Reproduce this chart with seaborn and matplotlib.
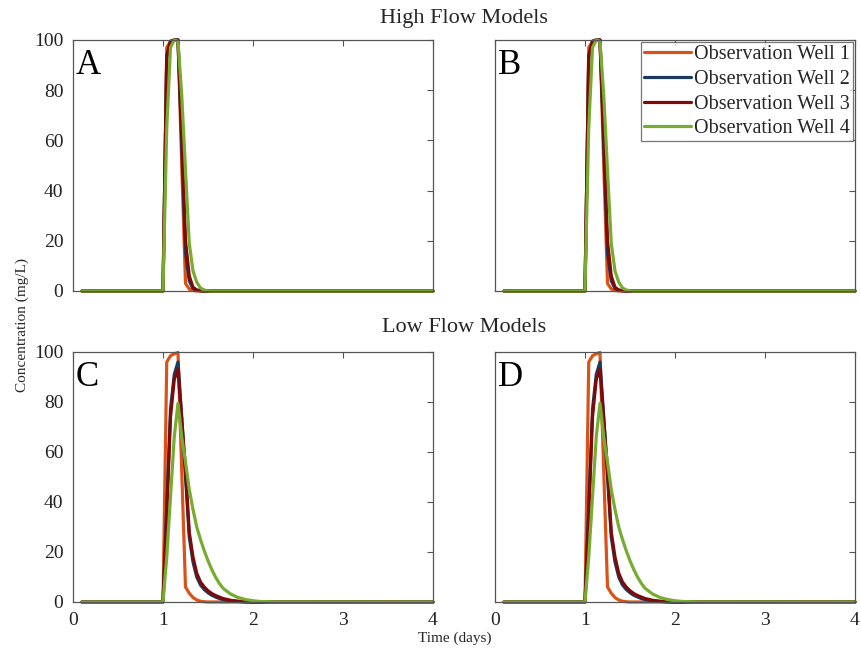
import numpy as np
import pandas as pd
import seaborn as sns
import matplotlib
matplotlib.use("Agg")
import matplotlib.pyplot as plt

# Sampling times (days)
time_days = [0.1, 1.0, 1.0417, 1.0833, 1.125, 1.1667, 1.2083, 1.25, 1.2917,
             1.3333, 1.375, 1.4167, 1.4583, 1.5, 1.5417, 1.5833, 1.625,
             1.6667, 1.75, 1.8333, 1.9167, 2.0, 2.0833, 2.25, 4.0]

# High flow breakthrough curves (mg/L)
high_well1 = [0, 0, 97, 99.5, 100, 100, 50, 3, 0.8, 0.2, 0, 0, 0, 0, 0, 0, 0,
              0, 0, 0, 0, 0, 0, 0, 0]
high_well2 = [0, 0, 93, 99, 100, 100, 58, 15, 4, 1, 0.3, 0.1, 0, 0, 0, 0, 0,
              0, 0, 0, 0, 0, 0, 0, 0]
high_well3 = [0, 0, 94, 99.5, 100, 100, 62, 20, 6, 1.5, 0.4, 0.1, 0, 0, 0, 0,
              0, 0, 0, 0, 0, 0, 0, 0, 0]
high_well4 = [0, 0, 65, 97, 100, 99.5, 78, 48, 19, 8, 3.5, 1.2, 0.4, 0.1, 0,
              0, 0, 0, 0, 0, 0, 0, 0, 0, 0]

# Low flow breakthrough curves (mg/L)
low_well1 = [0, 0, 96, 98.5, 99.3, 99.8, 52, 6, 3.5, 1.8, 0.8, 0.3, 0.1, 0,
             0, 0, 0, 0, 0, 0, 0, 0, 0, 0, 0]
low_well2 = [0, 0, 38, 77, 91, 96, 74, 50, 26, 16, 10, 6.8, 5, 3.7, 2.7, 2.0,
             1.4, 1.0, 0.5, 0.2, 0.05, 0, 0, 0, 0]
low_well3 = [0, 0, 35, 74, 89, 93, 73, 53, 28, 18, 11.5, 8, 6, 4.5, 3.4, 2.6,
             2.0, 1.4, 0.7, 0.3, 0.1, 0, 0, 0, 0]
low_well4 = [0, 0, 18, 42, 66, 79.5, 66, 56, 45, 37, 30, 25, 20.5, 16.5, 13,
             10, 7.5, 5.5, 3.2, 1.8, 1.0, 0.5, 0.2, 0.05, 0]

wells = ["Observation Well 1", "Observation Well 2",
         "Observation Well 3", "Observation Well 4"]
well_colors = ["#D95319", "#1C3A5E", "#7E0A0A", "#77AC30"]

x_ticks = [0, 1, 2, 3, 4]
y_ticks = [0, 20, 40, 60, 80, 100]


def long_frame(series):
    rows = []
    for name, vals in zip(wells, series):
        for t, c in zip(time_days, vals):
            rows.append({"time": t, "conc": c, "well": name})
    return pd.DataFrame(rows)


high_df = long_frame([high_well1, high_well2, high_well3, high_well4])
low_df = long_frame([low_well1, low_well2, low_well3, low_well4])

sns.set_style("white")
plt.rcParams["font.family"] = ["Liberation Serif", "DejaVu Serif"]

W, H = 862, 655
fig = plt.figure(figsize=(W / 100, H / 100), dpi=100)


def px_axes(left, top, right, bottom):
    return fig.add_axes([left / W, 1 - bottom / H, (right - left) / W,
                         (bottom - top) / H])


panels = [
    ("A", px_axes(73, 40, 433, 291), high_df, True, False),
    ("B", px_axes(495, 40, 855, 291), high_df, False, False),
    ("C", px_axes(73, 352, 433, 602), low_df, True, True),
    ("D", px_axes(495, 352, 855, 602), low_df, False, True),
]

spine_color = "#555555"
palette = dict(zip(wells, well_colors))

for letter, ax, df, show_y, show_x in panels:
    sns.lineplot(data=df, x="time", y="conc", hue="well", hue_order=wells,
                 palette=palette, linewidth=2.3, ax=ax,
                 legend=(letter == "B"), clip_on=False)
    ax.set_xlim(0, 4)
    ax.set_ylim(0, 100)
    ax.set_xticks(x_ticks)
    ax.set_yticks(y_ticks)
    ax.set_xlabel("")
    ax.set_ylabel("")
    for sp in ax.spines.values():
        sp.set_visible(True)
        sp.set_color(spine_color)
        sp.set_linewidth(0.9)
    ax.tick_params(direction="in", length=4, width=0.8, color=spine_color,
                   top=True, right=True, labelsize=14, labelcolor="#222222",
                   pad=7, labelleft=show_y, labelbottom=show_x)
    ax.text(0.008, 0.965, letter, transform=ax.transAxes, fontsize=25,
            va="top", ha="left", color="black")
    if letter == "B":
        leg = ax.legend(loc="upper right", frameon=True, fontsize=14.5,
                        handlelength=2.35, handletextpad=0.15,
                        labelspacing=0.28, borderpad=0.15,
                        borderaxespad=0.1, fancybox=False)
        leg.get_frame().set_edgecolor(spine_color)
        leg.get_frame().set_linewidth(0.9)
        for line in leg.get_lines():
            line.set_linewidth(2.3)

fig.text(464 / W, 1 - 18 / H, "High Flow Models", ha="center", va="center",
         fontsize=16)
fig.text(464 / W, 1 - 328 / H, "Low Flow Models", ha="center", va="center",
         fontsize=16)
fig.text(22 / W, 1 - 325 / H, "Concentration (mg/L)", rotation=90,
         ha="center", va="center", fontsize=11)
fig.text(455 / W, 1 - 638 / H, "Time (days)", ha="center", va="center",
         fontsize=11)

fig.savefig("out.png", dpi=100)
